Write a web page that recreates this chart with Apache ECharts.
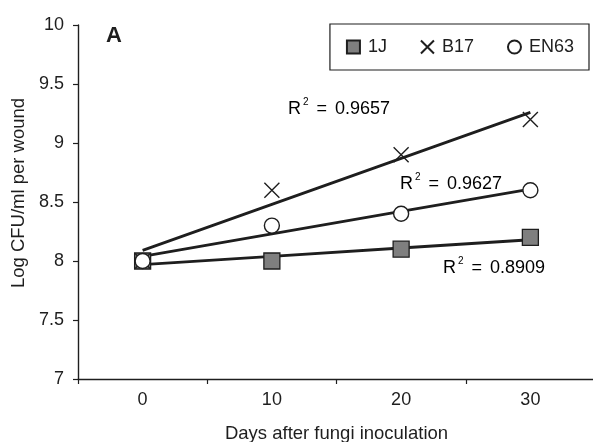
<!DOCTYPE html>
<html>
<head>
<meta charset="utf-8">
<script src="https://cdn.jsdelivr.net/npm/echarts@6/dist/echarts.min.js"></script>
<style>
html,body{margin:0;padding:0;background:#fff;}
#c{width:593px;height:442px;}
</style>
</head>
<body>
<div id="c"></div>
<script>
const days = ['0', '10', '20', '30'];
const dayValues = [0, 10, 20, 30];
const s1J = [8.0, 8.0, 8.1, 8.2];
const sB17 = [8.0, 8.6, 8.9, 9.2];
const sEN63 = [8.0, 8.3, 8.4, 8.6];
const r2Values = ['0.8909', '0.9657', '0.9627'];
const yTicks = [7, 7.5, 8, 8.5, 9, 9.5, 10];

// Linear (least-squares) trend line, as in the original spreadsheet chart
function trend(ys) {
  const n = ys.length;
  const mx = dayValues.reduce((a, b) => a + b, 0) / n;
  const my = ys.reduce((a, b) => a + b, 0) / n;
  let sxy = 0, sxx = 0;
  for (let i = 0; i < n; i++) {
    sxy += (dayValues[i] - mx) * (ys[i] - my);
    sxx += (dayValues[i] - mx) * (dayValues[i] - mx);
  }
  const b = sxy / sxx, a = my - b * mx;
  return dayValues.map(x => +(a + b * x).toFixed(4));
}

const FONT = 'Liberation Sans, Arial, sans-serif';
const INK = '#1e1e1e';
const xPath = 'path://M0,0L10,10M10,0L0,10';

const chart = echarts.init(document.getElementById('c'), null, {renderer: 'canvas'});
const trendStyle = {color: INK, width: 2.8};

function r2Text(x, y, val) {
  return {
    type: 'text', x: x, y: y, z: 10,
    style: {
      text: '{r|R}{s|2}{e|=}{n|' + val + '}',
      align: 'left', verticalAlign: 'middle',
      rich: {
        r: {fontFamily: FONT, fontSize: 18, color: INK, verticalAlign: 'bottom'},
        s: {fontFamily: FONT, fontSize: 10, color: INK, verticalAlign: 'top', padding: [0, 0, 11, 2]},
        e: {fontFamily: FONT, fontSize: 18, color: INK, verticalAlign: 'bottom', padding: [0, 8, 0, 8]},
        n: {fontFamily: FONT, fontSize: 18, color: INK, verticalAlign: 'bottom'}
      }
    }
  };
}

chart.setOption({
  animation: false,
  backgroundColor: '#fff',
  textStyle: {fontFamily: FONT},
  grid: {left: 78, right: -2, top: 25, bottom: 63, outerBoundsMode: 'none', containLabel: false},
  legend: {
    right: 4, top: 24,
    width: 400,
    padding: [14, 15, 14, 16],
    borderColor: INK, borderWidth: 1.2,
    itemGap: 33, itemWidth: 13, itemHeight: 13,
    textStyle: {fontFamily: FONT, fontSize: 18, color: INK, padding: [0, 0, 0, 3]},
    data: [
      {name: '1J', icon: 'rect'},
      {name: 'B17', icon: xPath},
      {name: 'EN63', icon: 'circle'}
    ]
  },
  xAxis: {
    type: 'category',
    data: days,
    boundaryGap: true,
    name: 'Days after fungi inoculation',
    nameLocation: 'middle',
    nameGap: 45,
    nameTextStyle: {fontSize: 18.5, color: INK, fontFamily: FONT},
    axisLine: {lineStyle: {color: INK, width: 1.4}},
    axisTick: {show: true, length: 5, lineStyle: {color: INK, width: 1.2}},
    axisLabel: {fontSize: 18, color: INK, margin: 12, fontFamily: FONT},
    splitLine: {show: false}
  },
  yAxis: {
    type: 'value',
    min: yTicks[0], max: yTicks[yTicks.length - 1], interval: 0.5,
    axisLine: {show: true, lineStyle: {color: INK, width: 1.4}},
    axisTick: {show: true, length: 5, lineStyle: {color: INK, width: 1.2}},
    axisLabel: {fontSize: 18, color: INK, margin: 14, fontFamily: FONT},
    splitLine: {show: false}
  },
  series: [
    {name: 'trend1J', type: 'line', data: trend(s1J), symbol: 'none', lineStyle: trendStyle, silent: true, z: 2},
    {name: 'trendB17', type: 'line', data: trend(sB17), symbol: 'none', lineStyle: trendStyle, silent: true, z: 2},
    {name: 'trendEN63', type: 'line', data: trend(sEN63), symbol: 'none', lineStyle: trendStyle, silent: true, z: 2},
    {
      name: '1J', type: 'scatter', data: s1J, symbol: 'rect', symbolSize: 16, z: 3,
      itemStyle: {color: '#7f7f7f', borderColor: INK, borderWidth: 1.3, opacity: 1}
    },
    {
      name: 'B17', type: 'scatter', data: sB17, symbol: xPath, symbolSize: 15, z: 4,
      itemStyle: {color: 'rgba(0,0,0,0)', borderColor: INK, borderWidth: 1.4, opacity: 1}
    },
    {
      name: 'EN63', type: 'scatter', data: sEN63, symbol: 'circle', symbolSize: 15, z: 5,
      itemStyle: {color: '#fff', borderColor: INK, borderWidth: 1.4, opacity: 1}
    }
  ],
  graphic: [
    {type: 'text', x: 106, y: 25, style: {text: 'A', font: 'bold 22px ' + FONT, fill: INK}},
    {
      type: 'text', x: 19, y: 193, rotation: Math.PI / 2,
      style: {text: 'Log CFU/ml per wound', font: '18.5px ' + FONT, fill: INK, align: 'center', verticalAlign: 'middle'}
    },
    r2Text(443, 267, r2Values[0]),
    r2Text(288, 108, r2Values[1]),
    r2Text(400, 183, r2Values[2])
  ]
});
</script>
</body>
</html>
